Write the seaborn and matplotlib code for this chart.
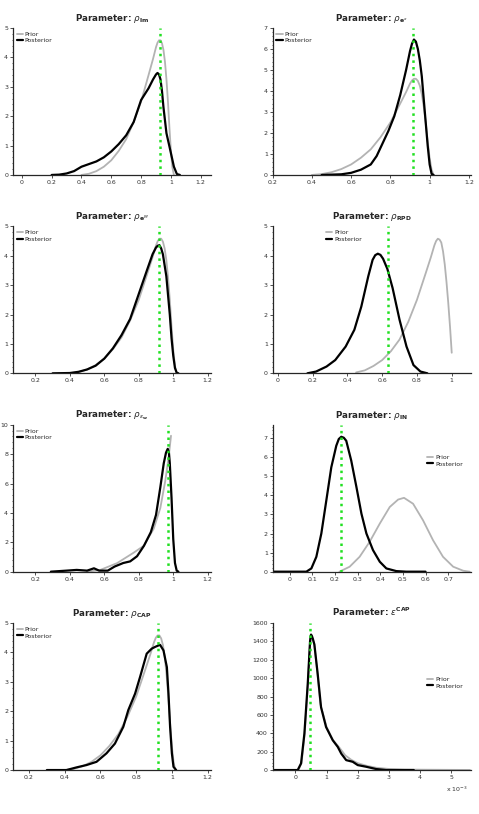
import matplotlib
matplotlib.use("Agg")
import matplotlib.pyplot as plt
import seaborn as sns
from matplotlib.ticker import AutoMinorLocator

# shared prior of the persistence parameters (rho)
rho_prior_x = [0.40, 0.45, 0.50, 0.55, 0.60, 0.65, 0.70, 0.75, 0.80, 0.85, 0.88, 0.90, 0.91, 0.92, 0.93, 0.94, 0.95, 0.96, 0.97, 0.98, 0.99, 1.00, 1.01, 1.02]
rho_prior_y = [0.00, 0.04, 0.13, 0.28, 0.50, 0.82, 1.22, 1.80, 2.50, 3.40, 3.95, 4.35, 4.50, 4.58, 4.58, 4.48, 4.25, 3.85, 3.25, 2.50, 1.60, 0.80, 0.25, 0.00]

# posteriors
im_post_x = [0.20, 0.25, 0.30, 0.35, 0.40, 0.45, 0.50, 0.55, 0.60, 0.65, 0.70, 0.75, 0.80, 0.85, 0.88, 0.90, 0.91, 0.92, 0.93, 0.94, 0.95, 0.97, 0.99, 1.00, 1.02, 1.04, 1.06]
im_post_y = [0.00, 0.01, 0.05, 0.13, 0.28, 0.37, 0.46, 0.60, 0.80, 1.05, 1.35, 1.80, 2.55, 2.95, 3.25, 3.42, 3.47, 3.42, 3.25, 2.85, 2.30, 1.42, 0.97, 0.74, 0.28, 0.03, 0.00]

ex_post_x = [0.45, 0.55, 0.60, 0.65, 0.70, 0.73, 0.76, 0.79, 0.82, 0.85, 0.88, 0.90, 0.91, 0.92, 0.93, 0.94, 0.95, 0.96, 0.98, 0.99, 1.00, 1.01, 1.02]
ex_post_y = [0.00, 0.03, 0.10, 0.25, 0.50, 0.90, 1.50, 2.10, 2.80, 3.80, 5.00, 5.90, 6.25, 6.45, 6.35, 6.00, 5.45, 4.70, 2.50, 1.40, 0.50, 0.05, 0.00]

em_post_x = [0.30, 0.40, 0.45, 0.50, 0.55, 0.60, 0.65, 0.70, 0.75, 0.80, 0.85, 0.88, 0.90, 0.91, 0.92, 0.93, 0.94, 0.96, 0.98, 0.99, 1.00, 1.01, 1.02, 1.03]
em_post_y = [0.00, 0.01, 0.05, 0.13, 0.26, 0.50, 0.85, 1.30, 1.85, 2.70, 3.55, 4.05, 4.28, 4.34, 4.36, 4.25, 4.05, 3.30, 2.00, 1.20, 0.60, 0.18, 0.02, 0.00]

rpd_prior_x = [0.45, 0.50, 0.55, 0.60, 0.65, 0.70, 0.75, 0.80, 0.85, 0.88, 0.90, 0.91, 0.92, 0.93, 0.94, 0.95, 0.96, 0.97, 0.98, 0.99, 1.00]
rpd_prior_y = [0.03, 0.10, 0.25, 0.45, 0.75, 1.15, 1.75, 2.50, 3.40, 3.95, 4.35, 4.50, 4.58, 4.55, 4.45, 4.15, 3.70, 3.10, 2.40, 1.60, 0.70]
rpd_post_x = [0.17, 0.22, 0.28, 0.33, 0.39, 0.44, 0.48, 0.52, 0.545, 0.56, 0.575, 0.59, 0.605, 0.63, 0.66, 0.70, 0.74, 0.78, 0.82, 0.86]
rpd_post_y = [0.00, 0.06, 0.23, 0.45, 0.91, 1.48, 2.27, 3.30, 3.86, 4.02, 4.07, 4.03, 3.90, 3.55, 2.90, 1.82, 0.91, 0.28, 0.06, 0.00]

ew_prior_x = [0.50, 0.577, 0.674, 0.77, 0.829, 0.887, 0.925, 0.954, 0.974, 0.987]
ew_prior_y = [0.00, 0.12, 0.58, 1.29, 1.76, 2.93, 4.33, 6.20, 7.85, 9.25]
ew_post_x = [0.29, 0.38, 0.44, 0.50, 0.54, 0.57, 0.62, 0.66, 0.71, 0.75, 0.79, 0.83, 0.87, 0.90, 0.925, 0.945, 0.958, 0.968, 0.975, 0.98, 0.99, 1.00, 1.01, 1.02, 1.03]
ew_post_y = [0.00, 0.07, 0.12, 0.07, 0.23, 0.07, 0.07, 0.35, 0.59, 0.70, 1.05, 1.76, 2.69, 3.86, 5.74, 7.38, 8.10, 8.36, 8.10, 7.38, 5.04, 2.22, 0.59, 0.07, 0.00]

in_prior_x = [0.22, 0.265, 0.309, 0.353, 0.398, 0.442, 0.479, 0.505, 0.545, 0.589, 0.633, 0.677, 0.722, 0.766, 0.795]
in_prior_y = [0.00, 0.26, 0.78, 1.56, 2.52, 3.39, 3.78, 3.87, 3.56, 2.69, 1.65, 0.78, 0.26, 0.05, 0.00]
in_post_x = [-0.07, 0.074, 0.096, 0.118, 0.14, 0.162, 0.184, 0.206, 0.217, 0.228, 0.239, 0.25, 0.272, 0.295, 0.317, 0.339, 0.368, 0.398, 0.427, 0.471, 0.515, 0.60]
in_post_y = [0.00, 0.00, 0.17, 0.78, 2.00, 3.73, 5.47, 6.60, 6.95, 7.07, 7.02, 6.86, 5.82, 4.43, 3.04, 2.00, 1.13, 0.52, 0.17, 0.03, 0.00, 0.00]

cap_post_x = [0.30, 0.41, 0.466, 0.522, 0.578, 0.634, 0.681, 0.728, 0.756, 0.794, 0.822, 0.859, 0.887, 0.906, 0.925, 0.934, 0.953, 0.972, 0.981, 0.99, 1.00, 1.009, 1.024]
cap_post_y = [0.00, 0.00, 0.09, 0.17, 0.28, 0.57, 0.90, 1.47, 2.04, 2.60, 3.17, 3.96, 4.13, 4.19, 4.24, 4.26, 4.07, 3.50, 2.60, 1.47, 0.57, 0.11, 0.00]

# epsilon^CAP, x in units of 1e-3
ecap_prior_x = [0.10, 0.20, 0.30, 0.40, 0.47, 0.52, 0.60, 0.70, 0.80, 1.00, 1.20, 1.40, 1.60, 1.80, 2.00, 2.30, 2.60, 3.00, 3.50, 4.00, 4.50, 5.00, 5.60]
ecap_prior_y = [0, 80, 400, 930, 1380, 1450, 1380, 1080, 720, 470, 330, 250, 160, 110, 75, 45, 25, 12, 6, 4, 3, 2, 1]
ecap_post_x = [-0.70, 0.075, 0.182, 0.289, 0.396, 0.471, 0.49, 0.503, 0.53, 0.56, 0.61, 0.717, 0.824, 0.985, 1.20, 1.36, 1.47, 1.63, 1.84, 2.00, 2.27, 2.59, 2.91, 3.80]
ecap_post_y = [0, 0, 72, 396, 935, 1403, 1460, 1475, 1460, 1430, 1367, 1043, 683, 468, 324, 252, 180, 108, 90, 54, 36, 11, 0, 0]

titles = [r"Parameter: $\rho_{\mathbf{Im}}$", r"Parameter: $\rho_{\mathbf{e}^x}$",
          r"Parameter: $\rho_{\mathbf{e}^M}$", r"Parameter: $\rho_{\mathbf{RPD}}$",
          r"Parameter: $\rho_{\epsilon_\mathbf{w}}$", r"Parameter: $\rho_{\mathbf{IN}}$",
          r"Parameter: $\rho_{\mathbf{CAP}}$", r"Parameter: $\epsilon^{\mathbf{CAP}}$"]
modes = [0.93, 0.915, 0.915, 0.633, 0.972, 0.225, 0.923, 0.47]

priors = [(rho_prior_x, rho_prior_y), (rho_prior_x, rho_prior_y), (rho_prior_x, rho_prior_y),
          (rpd_prior_x, rpd_prior_y), (ew_prior_x, ew_prior_y), (in_prior_x, in_prior_y),
          (rho_prior_x, rho_prior_y), (ecap_prior_x, ecap_prior_y)]
posts = [(im_post_x, im_post_y), (ex_post_x, ex_post_y), (em_post_x, em_post_y),
         (rpd_post_x, rpd_post_y), (ew_post_x, ew_post_y), (in_post_x, in_post_y),
         (cap_post_x, cap_post_y), (ecap_post_x, ecap_post_y)]

xlims = [(-0.06, 1.27), (0.2, 1.21), (0.07, 1.22), (-0.03, 1.11),
         (0.07, 1.22), (-0.075, 0.80), (0.11, 1.22), (-0.73, 5.63)]
xticks = [[0, 0.2, 0.4, 0.6, 0.8, 1, 1.2], [0.2, 0.4, 0.6, 0.8, 1, 1.2],
          [0.2, 0.4, 0.6, 0.8, 1, 1.2], [0, 0.2, 0.4, 0.6, 0.8, 1],
          [0.2, 0.4, 0.6, 0.8, 1, 1.2], [0, 0.1, 0.2, 0.3, 0.4, 0.5, 0.6, 0.7],
          [0.2, 0.4, 0.6, 0.8, 1, 1.2], [0, 1, 2, 3, 4, 5]]
ylims = [(0, 5), (0, 7), (0, 5), (0, 5), (0, 10), (0, 7.7), (0, 5), (0, 1600)]
yticks = [range(6), range(8), range(6), range(6), range(0, 11, 2), range(8), range(6), range(0, 1601, 200)]
legend_pos = [(0.0, 1.0), (0.0, 1.0), (0.0, 1.0), (0.25, 1.0),
              (0.0, 1.0), (0.76, 0.82), (0.0, 1.0), (0.76, 0.66)]

sns.set_style("ticks")
plt.rcParams['font.family'] = ['DejaVu Sans']

fig, axes = plt.subplots(4, 2, figsize=(4.79, 8.14), dpi=100)
fig.subplots_adjust(left=0.027, right=0.983, top=0.9656, bottom=0.054, hspace=0.35, wspace=0.31)

for i, ax in enumerate(axes.flat):
    sns.lineplot(x=priors[i][0], y=priors[i][1], ax=ax, color='#b3b3b3', lw=1.3, label='Prior')
    sns.lineplot(x=posts[i][0], y=posts[i][1], ax=ax, color='black', lw=1.6, label='Posterior')
    ax.axvline(modes[i], color='#22e022', ls=':', lw=1.8, zorder=5)
    ax.set_xlim(xlims[i])
    ax.set_ylim(ylims[i])
    ax.set_xticks(xticks[i])
    ax.set_xticklabels([f"{t:g}" for t in xticks[i]])
    ax.set_yticks(list(yticks[i]))
    ax.yaxis.set_minor_locator(AutoMinorLocator(5))
    ax.tick_params(axis='both', which='major', labelsize=4.5, length=2, width=0.6, colors='#333333', pad=1.5)
    ax.tick_params(axis='y', which='minor', length=1, width=0.5)
    sns.despine(ax=ax)
    for s in ['left', 'bottom']:
        ax.spines[s].set_linewidth(0.9)
    ax.set_title(titles[i], fontsize=6.3, fontweight='bold', pad=5)
    ax.legend(loc='upper left', bbox_to_anchor=legend_pos[i], frameon=False, fontsize=4.5,
              handlelength=1.0, handletextpad=0.3, labelspacing=0.15, borderaxespad=0.2)

axes[3, 1].text(0.93, -0.13, r"x 10$^{-3}$", transform=axes[3, 1].transAxes,
                fontsize=4.5, color='#333333', ha='center', va='center')

plt.savefig("out.png", dpi=100)
